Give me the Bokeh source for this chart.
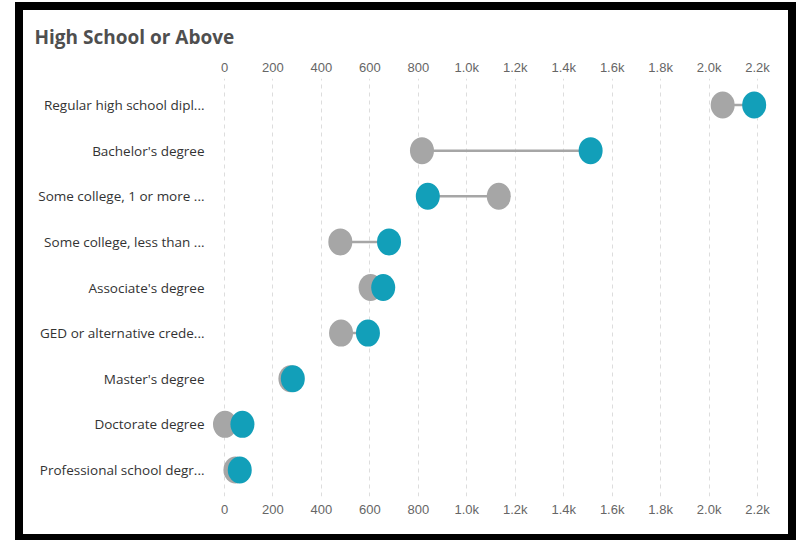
from bokeh.plotting import figure
from bokeh.models import FactorRange, Range1d, FixedTicker, ColumnDataSource, LinearAxis
from bokeh.embed import file_html
from bokeh.resources import INLINE

# Education levels, top to bottom
categories = [
    "Regular high school dipl...",
    "Bachelor's degree",
    "Some college, 1 or more ...",
    "Some college, less than ...",
    "Associate's degree",
    "GED or alternative crede...",
    "Master's degree",
    "Doctorate degree",
    "Professional school degr...",
]
# Two series compared per category
series_gray = [2056, 815, 1132, 478, 603, 481, 272, 2, 45]
series_teal = [2186, 1511, 839, 679, 655, 592, 282, 74, 63]

tick_values = [0, 200, 400, 600, 800, 1000, 1200, 1400, 1600, 1800, 2000, 2200]
tick_labels = ["0", "200", "400", "600", "800", "1.0k", "1.2k", "1.4k",
               "1.6k", "1.8k", "2.0k", "2.2k"]

GRAY = "#a6a6a6"
TEAL = "#129fb9"

src = ColumnDataSource(dict(cat=categories, a=series_gray, b=series_teal))

# white card with a heavy black frame drawn as a CSS outline
p = figure(
    width=765, height=524,
    y_range=FactorRange(factors=list(reversed(categories)), range_padding=0.018),
    x_range=Range1d(-49.5, 2274),
    x_axis_location="above",
    output_backend="svg", toolbar_location=None,
    min_border_left=189, min_border_right=13,
    min_border_top=68, min_border_bottom=38,
    title="High School or Above",
    styles={"outline": "8px solid black", "margin-left": "23px",
            "margin-top": "10px"},
)
p.outline_line_color = None
p.background_fill_color = "white"
p.border_fill_color = "white"

p.title.text_font = "Open Sans"
p.title.text_font_style = "bold"
p.title.text_font_size = "19px"
p.title.text_color = "#4f4f4f"
p.title.align = "left"
p.title.offset = -178
p.title.standoff = 14

# connector segments and dots
p.segment(x0="a", x1="b", y0="cat", y1="cat", source=src,
          line_color=GRAY, line_width=2.5)
p.ellipse(x="a", y="cat", width=24, height=27, width_units="screen",
          height_units="screen", source=src, fill_color=GRAY, line_color=None)
p.ellipse(x="b", y="cat", width=24, height=27, width_units="screen",
          height_units="screen", source=src, fill_color=TEAL, line_color=None)

# numeric axes top and bottom
bottom = LinearAxis()
p.add_layout(bottom, "below")
overrides = {v: t for v, t in zip(tick_values, tick_labels)}
for ax in p.xaxis:
    ax.ticker = FixedTicker(ticks=tick_values)
    ax.major_label_overrides = overrides
    ax.axis_line_color = None
    ax.major_tick_line_color = None
    ax.minor_tick_line_color = None
    ax.major_tick_out = 0
    ax.major_tick_in = 0
    ax.major_label_text_font = "Liberation Sans"
    ax.major_label_text_font_size = "13px"
    ax.major_label_text_color = "#666666"
p.xaxis[0].major_label_standoff = 4
bottom.major_label_standoff = 5

p.yaxis.axis_line_color = None
p.yaxis.major_tick_line_color = None
p.yaxis.major_label_text_font = "Open Sans"
p.yaxis.major_label_text_font_size = "13.5px"
p.yaxis.major_label_text_color = "#333333"
p.yaxis.major_label_standoff = 2

p.xgrid.grid_line_color = "#dddddd"
p.xgrid.grid_line_dash = "4 4"
p.xgrid.ticker = FixedTicker(ticks=tick_values)
p.ygrid.grid_line_color = None

open("out.html", "w").write(file_html(p, INLINE))
